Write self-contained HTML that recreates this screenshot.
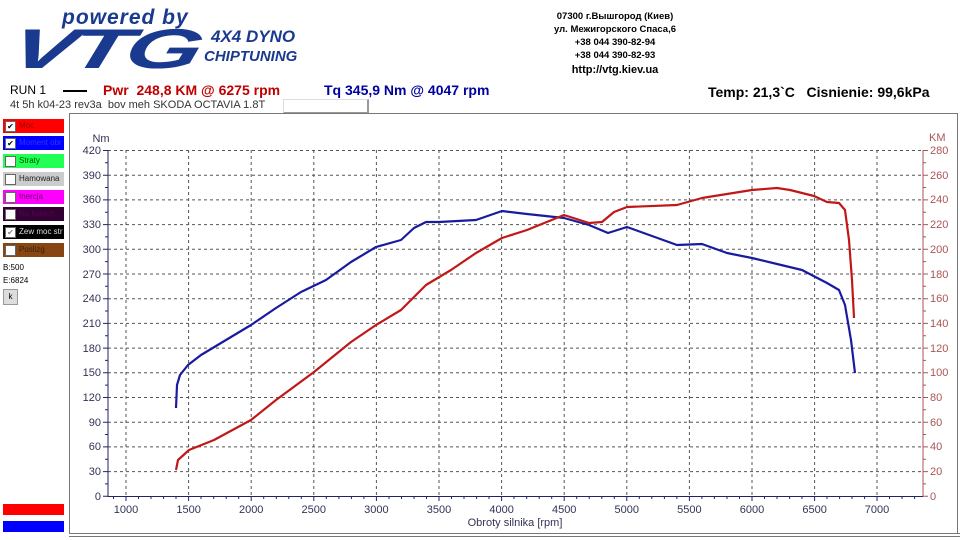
<!DOCTYPE html><html><head><meta charset="utf-8"><style>
body{margin:0;width:960px;height:540px;background:#fff;overflow:hidden;font-family:"Liberation Sans",sans-serif;position:relative}
.a{position:absolute;white-space:nowrap}
.cb{position:absolute;left:3px;width:61px;height:14px;font-size:8px;line-height:14px}
.cb i{display:inline-block;width:9px;height:9px;background:#fff;border:1px solid #666;margin:2px 3px 0 2px;vertical-align:top;font-style:normal;font-size:8px;line-height:9px;color:#000;text-align:center}
</style></head><body>
<div class="a" style="left:62px;top:6px;font:italic bold 21px 'Liberation Sans';color:#1a3a8f;letter-spacing:1px">powered by</div>
<div class="a" style="left:12px;top:16px;font:italic 900 56px 'Liberation Sans';color:#1a3a8f;letter-spacing:-3px;transform:skewX(-15deg) scaleX(1.75);transform-origin:left">VTG</div>
<div class="a" style="left:211px;top:27px;font:italic bold 17px 'Liberation Sans';color:#1a3a8f">4X4 DYNO</div>
<div class="a" style="left:204px;top:48px;font:italic bold 15px 'Liberation Sans';color:#1a3a8f">CHIPTUNING</div>
<div class="a" style="left:540px;top:10px;width:150px;text-align:center;font-size:9.5px;font-weight:bold;line-height:13px">07300 г.Вышгород (Киев)<br>ул. Межигорского Спаса,6<br>+38 044 390-82-94<br>+38 044 390-82-93<br><span style="font-size:11px;line-height:16px">http://vtg.kiev.ua</span></div>
<div class="a" style="left:708px;top:84px;font-size:14px;font-weight:bold">Temp: 21,3`C&nbsp;&nbsp;&nbsp;Cisnienie: 99,6kPa</div>
<div class="a" style="left:10px;top:83px;font-size:12px">RUN 1</div>
<div class="a" style="left:63px;top:90px;width:24px;height:2px;background:#000"></div>
<div class="a" style="left:103px;top:82px;font-size:14px;font-weight:bold;color:#c00000">Pwr&nbsp; 248,8 KM @ 6275 rpm</div>
<div class="a" style="left:324px;top:82px;font-size:14px;font-weight:bold;color:#0000a0">Tq 345,9 Nm @ 4047 rpm</div>
<div class="a" style="left:283px;top:99px;width:83px;height:12px;border:1px solid #ddd;border-bottom:2px solid #999;border-right:2px solid #999;background:#fff"></div>
<div class="a" style="left:10px;top:99px;font-size:11px;color:#333">4t 5h k04-23 rev3a&nbsp; bov meh SKODA OCTAVIA 1.8T</div>
<div class="cb" style="top:119px;background:#f00;color:#900"><i>✔</i>Moc</div>
<div class="cb" style="top:136px;background:#00f;color:#33f"><i>✔</i>Moment obr</div>
<div class="cb" style="top:154px;background:#2f5;color:#050"><i></i>Straty</div>
<div class="cb" style="top:172px;background:#ccc;color:#222"><i></i>Hamowana</div>
<div class="cb" style="top:190px;background:#f0f;color:#606"><i></i>Inercja</div>
<div class="cb" style="top:207px;background:#303;color:#505"><i></i>Na kołach</div>
<div class="cb" style="top:225px;background:#000;color:#ddd"><i style="color:#888">✔</i>Zew moc str</div>
<div class="cb" style="top:243px;background:#841;color:#321"><i></i>Poslizg</div>
<div class="a" style="left:3px;top:263px;font-size:8px">B:500</div>
<div class="a" style="left:3px;top:276px;font-size:8px">E:6824</div>
<div class="a" style="left:3px;top:289px;width:13px;height:14px;background:#ddd;border:1px solid #999;font-size:8px;text-align:center;line-height:14px">k</div>
<div class="a" style="left:3px;top:504px;width:61px;height:11px;background:#f00"></div>
<div class="a" style="left:3px;top:521px;width:61px;height:11px;background:#00f"></div>
<div class="a" style="left:69px;top:113px;width:887px;height:419px;border:1px solid #777"></div>
<div class="a" style="left:69px;top:533px;width:891px;height:1px;background:#777"></div>
<div class="a" style="left:69px;top:536px;width:891px;height:1px;background:#777"></div>
<svg class="a" style="left:0;top:0" width="960" height="540" font-family="Liberation Sans" font-size="11">
<g stroke="#555" stroke-dasharray="3,3" stroke-width="1">
<path d="M108 150.5H923M108 175.2H923M108 199.9H923M108 224.6H923M108 249.3H923M108 274H923M108 298.7H923M108 323.4H923M108 348.1H923M108 372.8H923M108 397.5H923M108 422.2H923M108 446.9H923M108 471.6H923"/>
<path d="M126 150V496M188.6 150V496M251.2 150V496M313.8 150V496M376.4 150V496M439 150V496M501.6 150V496M564.2 150V496M626.8 150V496M689.4 150V496M752 150V496M814.6 150V496M877 150V496"/>
</g>
<path d="M108 150V496.5H923" stroke="#226" fill="none"/>
<path stroke="#226" d="M103 150.5h5M103 175.2h5M103 199.9h5M103 224.6h5M103 249.3h5M103 274h5M103 298.7h5M103 323.4h5M103 348.1h5M103 372.8h5M103 397.5h5M103 422.2h5M103 446.9h5M103 471.6h5M103 496.3h5M105 162.8h3M105 187.5h3M105 212.2h3M105 236.9h3M105 261.6h3M105 286.3h3M105 311h3M105 335.7h3M105 360.4h3M105 385.1h3M105 409.8h3M105 434.5h3M105 459.2h3M105 483.9h3"/>
<g stroke="#226"><path d="M126 496v5M188.6 496v5M251.2 496v5M313.8 496v5M376.4 496v5M439 496v5M501.6 496v5M564.2 496v5M626.8 496v5M689.4 496v5M752 496v5M814.6 496v5M877 496v5"/>
<path d="M113.5 496v3M138.5 496v3M151 496v3M163.6 496v3M176 496v3M201 496v3M213.7 496v3M226.2 496v3M238.7 496v3M263.7 496v3M276.3 496v3M288.8 496v3M301.3 496v3M326.3 496v3M338.9 496v3M351.4 496v3M363.9 496v3M389 496v3M401.5 496v3M414 496v3M426.5 496v3M451.5 496v3M464 496v3M476.6 496v3M489 496v3M514 496v3M526.7 496v3M539.2 496v3M551.7 496v3M576.7 496v3M589.2 496v3M601.8 496v3M614.3 496v3M639.3 496v3M651.8 496v3M664.4 496v3M676.9 496v3M701.9 496v3M714.4 496v3M727 496v3M739.5 496v3M764.5 496v3M777 496v3M789.6 496v3M802 496v3M827 496v3M839.6 496v3M852 496v3M864.6 496v3M889.5 496v3M902 496v3M914.6 496v3"/></g>
<path stroke="#a55" d="M923 150.5h5M923 175.2h5M923 199.9h5M923 224.6h5M923 249.3h5M923 274h5M923 298.7h5M923 323.4h5M923 348.1h5M923 372.8h5M923 397.5h5M923 422.2h5M923 446.9h5M923 471.6h5M923 496.3h5M923 162.8h3M923 187.5h3M923 212.2h3M923 236.9h3M923 261.6h3M923 286.3h3M923 311h3M923 335.7h3M923 360.4h3M923 385.1h3M923 409.8h3M923 434.5h3M923 459.2h3M923 483.9h3"/>
<g fill="#335" text-anchor="end">
<text x="101" y="142" text-anchor="middle">Nm</text>
<text x="101" y="154">420</text><text x="101" y="179">390</text><text x="101" y="203">360</text><text x="101" y="228">330</text><text x="101" y="253">300</text><text x="101" y="278">270</text><text x="101" y="302">240</text><text x="101" y="327">210</text><text x="101" y="352">180</text><text x="101" y="376">150</text><text x="101" y="401">120</text><text x="101" y="426">90</text><text x="101" y="450">60</text><text x="101" y="475">30</text><text x="101" y="500">0</text>
</g>
<path d="M923 150V496" stroke="#a55" fill="none"/>
<g fill="#a55">
<text x="929" y="141">KM</text>
<text x="930" y="154">280</text><text x="930" y="179">260</text><text x="930" y="203">240</text><text x="930" y="228">220</text><text x="930" y="253">200</text><text x="930" y="278">180</text><text x="930" y="302">160</text><text x="930" y="327">140</text><text x="930" y="352">120</text><text x="930" y="376">100</text><text x="930" y="401">80</text><text x="930" y="426">60</text><text x="930" y="450">40</text><text x="930" y="475">20</text><text x="930" y="500">0</text>
</g>
<g fill="#335" text-anchor="middle">
<text x="126" y="513">1000</text><text x="188.6" y="513">1500</text><text x="251.2" y="513">2000</text><text x="313.8" y="513">2500</text><text x="376.4" y="513">3000</text><text x="439" y="513">3500</text><text x="501.6" y="513">4000</text><text x="564.2" y="513">4500</text><text x="626.8" y="513">5000</text><text x="689.4" y="513">5500</text><text x="752" y="513">6000</text><text x="814.6" y="513">6500</text><text x="877" y="513">7000</text>
<text x="515" y="526">Obroty silnika [rpm]</text>
</g>
<path fill="none" stroke="#1a1aa0" stroke-width="2.2" stroke-linejoin="round" d="M176 408L177 385L180 375L188 365L201 355L226 340L251 325L276 308L301 292L326 280L351 262L376 247L401 240L414 228L426 222L439 222L476 220L502 211L527 214L564 218L589 225L608 233L627 227L652 236L677 245L702 244L727 253L752 258L777 264L802 270L827 283L839 290L845 305L851 340L855 373"/>
<path fill="none" stroke="#c01818" stroke-width="2.2" stroke-linejoin="round" d="M176 470L178 460L189 450L214 440L251 420L276 400L314 372L351 342L376 325L401 310L426 285L451 270L476 253L502 238L527 230L564 215L589 223L602 222L614 212L627 207L677 205L702 198L752 190L777 188L790 190L814 196L827 202L839 203L845 210L849 240L852 280L854 318"/>
</svg>
</body></html>
